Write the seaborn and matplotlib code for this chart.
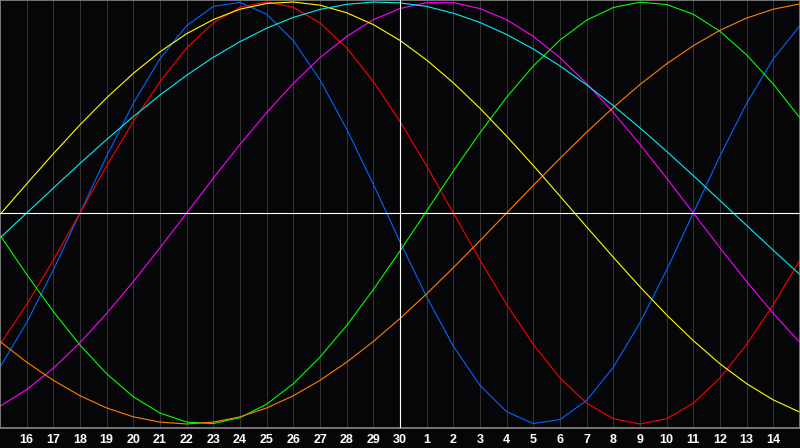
import pandas as pd
import matplotlib
matplotlib.use("Agg")
import matplotlib.pyplot as plt
import seaborn as sns

# Dias do grafico (indice 0 = dia 15 do mes anterior)
dias = list(range(31))
rotulos_dias = ["16", "17", "18", "19", "20", "21", "22", "23", "24", "25", "26", "27", "28", "29", "30",
                "1", "2", "3", "4", "5", "6", "7", "8", "9", "10", "11", "12", "13", "14"]

# Valores (-1 a 1)
fisico = [-0.731, -0.520, -0.270, 0.0, 0.270, 0.520, 0.731, 0.888, 0.979, 0.998, 0.942, 0.817, 0.631, 0.398, 0.136,
          -0.136, -0.398, -0.631, -0.817, -0.942, -0.998, -0.979, -0.888, -0.731, -0.520, -0.270, 0.0, 0.270, 0.520,
          0.731, 0.888]
emocional = [-0.623, -0.434, -0.223, 0.0, 0.223, 0.434, 0.623, 0.782, 0.901, 0.975, 1.0, 0.975, 0.901, 0.782, 0.623,
             0.434, 0.223, 0.0, -0.223, -0.434, -0.623, -0.782, -0.901, -0.975, -1.0, -0.975, -0.901, -0.782, -0.623,
             -0.434, -0.223]
intelectual = [-0.105, -0.291, -0.467, -0.626, -0.762, -0.871, -0.948, -0.991, -0.998, -0.97, -0.906, -0.809, -0.683,
               -0.533, -0.363, -0.18, 0.01, 0.199, 0.38, 0.549, 0.697, 0.82, 0.914, 0.974, 0.999, 0.988, 0.942, 0.861,
               0.749, 0.611, 0.45]
intuitivo = [-0.916, -0.837, -0.736, -0.614, -0.476, -0.325, -0.165, 0.0, 0.165, 0.325, 0.476, 0.614, 0.736, 0.837,
             0.916, 0.969, 0.997, 0.997, 0.969, 0.916, 0.837, 0.736, 0.614, 0.476, 0.325, 0.165, 0.0, -0.165, -0.325,
             -0.476, -0.614]
estetico = [-0.007, 0.138, 0.281, 0.418, 0.546, 0.662, 0.764, 0.85, 0.917, 0.966, 0.993, 1.0, 0.985, 0.949, 0.893,
            0.818, 0.725, 0.617, 0.496, 0.364, 0.225, 0.08, -0.066, -0.21, -0.35, -0.483, -0.605, -0.715, -0.809,
            -0.886, -0.944]
consciencia = [-0.609, -0.707, -0.793, -0.866, -0.924, -0.966, -0.991, -1.0, -0.991, -0.966, -0.924, -0.866, -0.793,
               -0.707, -0.609, -0.5, -0.383, -0.259, -0.131, 0.0, 0.131, 0.259, 0.383, 0.5, 0.609, 0.707, 0.793,
               0.866, 0.924, 0.966, 0.991]
espiritual = [-0.118, 0.0, 0.118, 0.235, 0.348, 0.457, 0.559, 0.653, 0.738, 0.812, 0.876, 0.927, 0.965, 0.989, 1.0,
              0.996, 0.979, 0.947, 0.903, 0.846, 0.777, 0.697, 0.607, 0.509, 0.403, 0.292, 0.177, 0.059, -0.059,
              -0.177, -0.292]

series = {"fisico": fisico, "emocional": emocional, "intelectual": intelectual, "intuitivo": intuitivo,
          "estetico": estetico, "consciencia": consciencia, "espiritual": espiritual}
cores = {"fisico": "#0066ff", "emocional": "#ff0000", "intelectual": "#00ff00", "intuitivo": "#ff00ff",
         "estetico": "#ffff00", "consciencia": "#ff8000", "espiritual": "#00f0f0"}

# Montar o dataframe longo
df = pd.concat([pd.DataFrame({"dia": dias, "valor": v, "ciclo": k}) for k, v in series.items()])

sns.set_style("dark")
plt.rcParams["font.family"] = ["Liberation Sans", "DejaVu Sans"]

fundo = "#060608"
fig = plt.figure(figsize=(8, 4.48), dpi=100, facecolor=fundo)
ax = fig.add_axes([0, 20.5 / 448, 1, 427.5 / 448], facecolor=fundo)

# Linhas de grade verticais e eixos centrais
for d in range(1, 30):
    if d != 15:
        ax.axvline(d, color="#333333", lw=0.75, zorder=1)
ax.axvline(15, color="white", lw=0.8, zorder=3)
ax.axhline(0, color="white", lw=0.8, zorder=3)

sns.lineplot(data=df, x="dia", y="valor", hue="ciclo", palette=cores, ax=ax,
             linewidth=0.8, legend=False, zorder=2)

ax.set_xlim(0, 30)
ax.set_ylim(-1.0166, 1.0095)
ax.set_xticks(range(1, 30))
ax.set_xticklabels(rotulos_dias, color="white", fontsize=9, fontweight="bold")
ax.tick_params(axis="x", length=0, pad=4.5)
ax.set_yticks([])
ax.set_xlabel("")
ax.set_ylabel("")
ax.grid(False)
for s in ax.spines.values():
    s.set_visible(True)
    s.set_color("#8a8a8a")
    s.set_linewidth(1.2)

fig.savefig("out.png", dpi=100, facecolor=fundo)
